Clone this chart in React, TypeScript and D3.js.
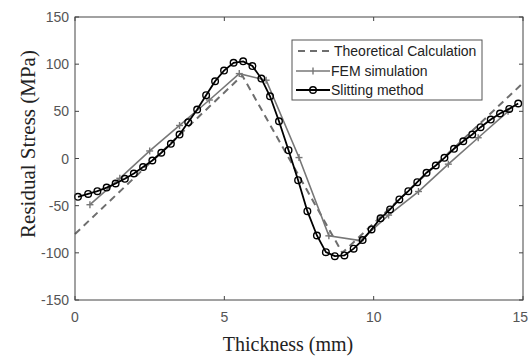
import React from "react";
import * as d3 from "d3";

const xTicks = [0, 5, 10, 15];
const yTicks = [-150, -100, -50, 0, 50, 100, 150];

const theoX = [0, 5.6, 8.95, 15];
const theoY = [-80, 88, -100, 80];

const femX = [0.5, 1.5, 2.5, 3.5, 4.5, 5.5, 6.4, 7.5, 8.5, 9.55, 10.5, 11.5, 12.5, 13.5, 14.5];
const femY = [-49, -21, 8, 35, 62, 90, 83, 1, -82, -87, -60, -35, -6, 22, 50];

const slitX = [0.1, 0.44, 0.75, 1.06, 1.36, 1.67, 1.97, 2.28, 2.59, 2.89, 3.21, 3.5, 3.79, 4.09, 4.39, 4.69, 4.99, 5.31, 5.63, 5.94, 6.24, 6.53, 6.83, 7.15, 7.47, 7.78, 8.1, 8.4, 8.7, 9.02, 9.33, 9.63, 9.93, 10.23, 10.55, 10.86, 11.16, 11.46, 11.77, 12.08, 12.37, 12.69, 13.0, 13.3, 13.58, 13.92, 14.23, 14.54, 14.84];
const slitY = [-40.6, -37.5, -34.6, -30.8, -26.5, -21.5, -15.9, -9.0, -2.1, 6.1, 15.6, 25.4, 38.4, 51.9, 67.1, 81.9, 93.2, 101.5, 103, 98, 84.7, 66.0, 39.5, 8.8, -23, -55.8, -81.6, -99.3, -103.5, -102.8, -95.6, -86.5, -75.2, -63.4, -54, -43.4, -34.6, -25.1, -15.1, -7.4, 0.7, 10.3, 18.3, 25.4, 33.2, 41.3, 47.7, 52.6, 58.3];

const legendLabels = ["Theoretical Calculation", "FEM simulation", "Slitting method"];

const W = 529, H = 358;
const L = 75, R = 523, T = 17, B = 300;

export default function App() {
  const x = d3.scaleLinear().domain([0, 15]).range([L, R]);
  const y = d3.scaleLinear().domain([-150, 150]).range([B, T]);
  const line = d3.line<[number, number]>().x(d => x(d[0])).y(d => y(d[1]));
  const theo = theoX.map((v, i) => [v, theoY[i]] as [number, number]);
  const fem = femX.map((v, i) => [v, femY[i]] as [number, number]);
  const slit = slitX.map((v, i) => [v, slitY[i]] as [number, number]);
  const axisColor = "#444";
  const tickFont = "Arial, 'Liberation Sans', sans-serif";
  const lx = 292, ly = 40, lw = 190, lh = 60;
  const rows = [56, 76, 95];
  return (
    <svg width={W} height={H} style={{ position: "absolute", left: 0, top: 0, background: "#fff" }}>
      <rect x={0} y={0} width={W} height={H} fill="#fff" />
      <path d={line(theo) || ""} fill="none" stroke="#6e6e6e" strokeWidth={2} strokeDasharray="7,5" />
      <path d={line(fem) || ""} fill="none" stroke="#777" strokeWidth={1.6} />
      {fem.map((d, i) => (
        <g key={"f" + i} stroke="#777" strokeWidth={1.4}>
          <line x1={x(d[0]) - 3.5} x2={x(d[0]) + 3.5} y1={y(d[1])} y2={y(d[1])} />
          <line x1={x(d[0])} x2={x(d[0])} y1={y(d[1]) - 3.5} y2={y(d[1]) + 3.5} />
        </g>
      ))}
      <path d={line(slit) || ""} fill="none" stroke="#000" strokeWidth={1.8} />
      {slit.map((d, i) => (
        <circle key={"s" + i} cx={x(d[0])} cy={y(d[1])} r={3.3} fill="none" stroke="#000" strokeWidth={1.4} />
      ))}
      <rect x={L} y={T} width={R - L} height={B - T} fill="none" stroke={axisColor} strokeWidth={1} />
      {yTicks.map(t => (
        <g key={"yt" + t}>
          <line x1={L} x2={L + 4} y1={y(t)} y2={y(t)} stroke={axisColor} />
          <line x1={R} x2={R - 4} y1={y(t)} y2={y(t)} stroke={axisColor} />
          <text x={69} y={y(t) + 5} textAnchor="end" fontFamily={tickFont} fontSize={14} fill="#555">{t}</text>
        </g>
      ))}
      {xTicks.map((t, i) => (
        <g key={"xt" + t}>
          <line x1={x(t)} x2={x(t)} y1={B} y2={B - 4} stroke={axisColor} />
          <line x1={x(t)} x2={x(t)} y1={T} y2={T + 4} stroke={axisColor} />
          <text x={i === xTicks.length - 1 ? W - 1 : x(t)} y={322} textAnchor={i === xTicks.length - 1 ? "end" : "middle"} fontFamily={tickFont} fontSize={14} fill="#555">{t}</text>
        </g>
      ))}
      <text x={288} y={351} textAnchor="middle" fontFamily="'Liberation Serif', 'Times New Roman', serif" fontSize={20} fill="#222">Thickness (mm)</text>
      <text transform={`translate(35,144) rotate(-90)`} textAnchor="middle" fontFamily="'Liberation Serif', 'Times New Roman', serif" fontSize={21} fill="#222">Residual Stress (MPa)</text>
      <rect x={lx} y={ly} width={lw} height={lh} fill="#fff" stroke="#555" strokeWidth={1} />
      <line x1={298} x2={331} y1={rows[0] - 5} y2={rows[0] - 5} stroke="#6e6e6e" strokeWidth={2} strokeDasharray="7,5" />
      <line x1={296} x2={330} y1={rows[1] - 5} y2={rows[1] - 5} stroke="#777" strokeWidth={1.6} />
      <line x1={313} x2={313} y1={rows[1] - 8.5} y2={rows[1] - 1.5} stroke="#777" strokeWidth={1.4} />
      <line x1={296} x2={330} y1={rows[2] - 5} y2={rows[2] - 5} stroke="#000" strokeWidth={1.8} />
      <circle cx={313} cy={rows[2] - 5} r={3.3} fill="none" stroke="#000" strokeWidth={1.4} />
      {legendLabels.map((s, i) => (
        <text key={s} x={i === 0 ? 334 : 331} y={rows[i]} fontFamily={tickFont} fontSize={14} fill="#222">{s}</text>
      ))}
    </svg>
  );
}
